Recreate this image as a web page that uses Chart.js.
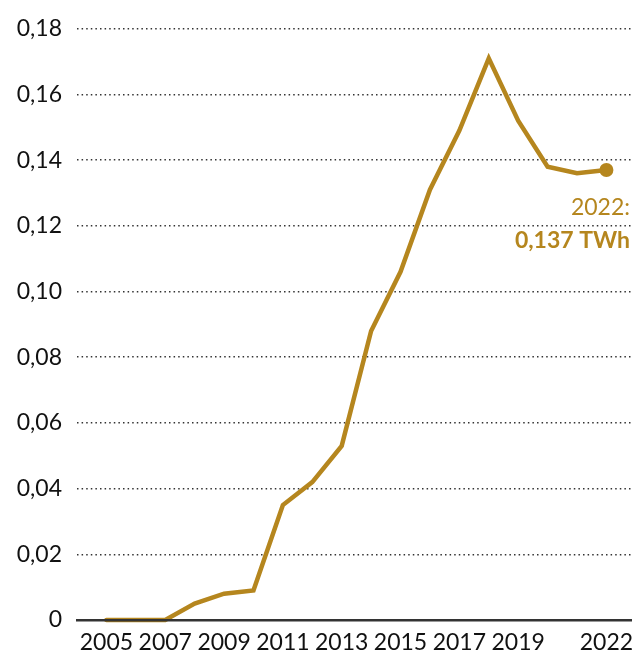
<!DOCTYPE html>
<html>
<head>
<meta charset="utf-8">
<script src="https://cdn.jsdelivr.net/npm/chart.js@4/dist/chart.umd.min.js"></script>
<style>
  html, body { margin: 0; padding: 0; background: #fff; }
  #wrap { width: 632px; height: 664px; position: relative; }
</style>
</head>
<body>
<div id="wrap"><canvas id="chart"></canvas></div>
<script>
// data (TWh)
var years = [2005, 2006, 2007, 2008, 2009, 2010, 2011, 2012, 2013, 2014,
             2015, 2016, 2017, 2018, 2019, 2020, 2021, 2022];
var values = [0, 0, 0, 0.005, 0.008, 0.009, 0.035, 0.042, 0.053, 0.088,
              0.106, 0.131, 0.149, 0.171, 0.152, 0.138, 0.136, 0.137];
var xTicks = [2005, 2007, 2009, 2011, 2013, 2015, 2017, 2019, 2022];
var labelTop = '2022:';
var labelBottom = '0,137 TWh';

var gold = '#b5861e';
var font = 'Lato';

var points = [];
for (var i = 0; i < years.length; i++) {
  points.push({ x: years[i], y: values[i] });
}

// last value label, right aligned under the end point
var endLabel = {
  id: 'endLabel',
  afterDatasetsDraw: function (chart) {
    var ctx = chart.ctx;
    var yScale = chart.scales.y;
    var y = yScale.getPixelForValue(values[values.length - 1]);
    var right = chart.chartArea.right - 2;
    ctx.save();
    ctx.fillStyle = gold;
    ctx.textAlign = 'right';
    ctx.textBaseline = 'middle';
    ctx.font = '23px ' + font;
    ctx.fillText(labelTop, right, y + 38);
    ctx.font = 'bold 23px ' + font;
    ctx.fillText(labelBottom, right, y + 71);
    ctx.restore();
  }
};

new Chart(document.getElementById('chart'), {
  type: 'line',
  data: {
    datasets: [{
      data: points,
      borderColor: gold,
      backgroundColor: gold,
      borderWidth: 4.5,
      borderCapStyle: 'round',
      borderJoinStyle: 'miter',
      tension: 0,
      clip: false,
      pointRadius: function (c) { return c.dataIndex === years.length - 1 ? 7 : 0; },
      pointHoverRadius: 0,
      pointBorderWidth: 0
    }]
  },
  options: {
    responsive: true,
    maintainAspectRatio: false,
    animation: false,
    events: [],
    layout: { autoPadding: false, padding: { top: 28, right: 0, left: 0, bottom: 0 } },
    plugins: { legend: { display: false }, tooltip: { enabled: false } },
    scales: {
      x: {
        type: 'linear',
        min: 2004,
        max: 2022.87,
        afterBuildTicks: function (scale) {
          scale.ticks = xTicks.map(function (v) { return { value: v }; });
        },
        afterFit: function (scale) {
          scale.height = 44;
          scale.paddingLeft = 0;
          scale.paddingRight = 0;
        },
        grid: { display: false, drawTicks: false },
        border: { display: true, color: '#333', width: 2.5, z: 1 },
        ticks: {
          autoSkip: false,
          maxRotation: 0,
          padding: 9,
          color: '#111',
          font: { family: font, size: 23 },
          callback: function (v) { return String(v); }
        }
      },
      y: {
        min: 0,
        max: 0.18,
        afterFit: function (scale) { scale.width = 77; },
        grid: { color: '#333', lineWidth: 1.5, drawTicks: false },
        border: { display: false, dash: [1.5, 3.1] },
        ticks: {
          stepSize: 0.02,
          padding: 15,
          color: '#111',
          font: { family: font, size: 23 },
          callback: function (v) {
            if (Math.abs(v) < 1e-9) return '0';
            return v.toFixed(2).replace('.', ',');
          }
        }
      }
    }
  },
  plugins: [endLabel]
});
</script>
</body>
</html>
